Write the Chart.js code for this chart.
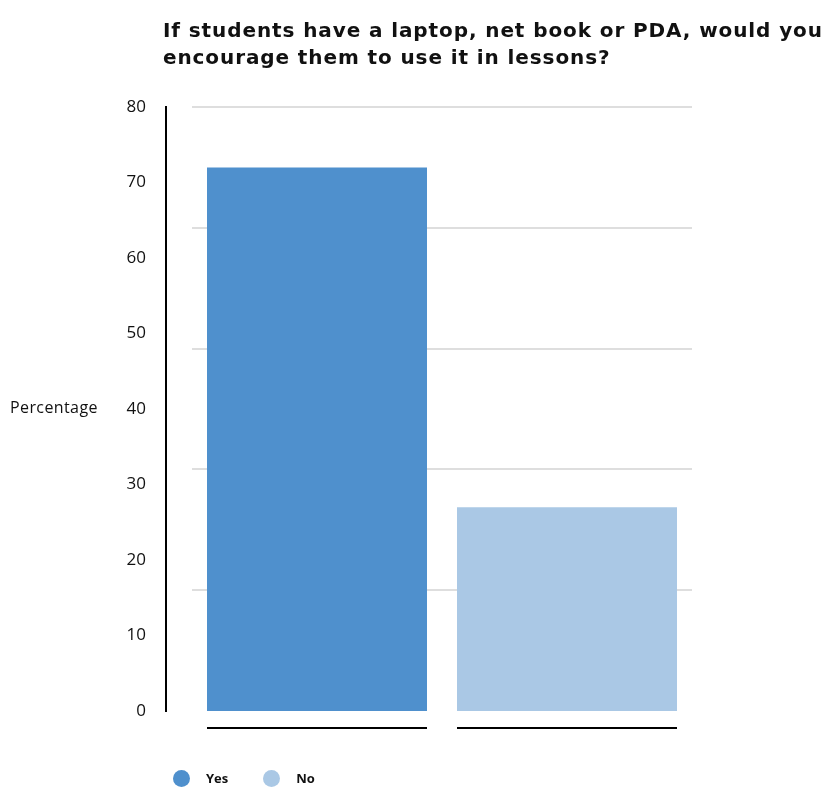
<!DOCTYPE html>
<html>
<head>
<meta charset="utf-8">
<script src="https://cdn.jsdelivr.net/npm/chart.js@4.4.1/dist/chart.umd.min.js"></script>
<style>
    html, body { margin: 0; padding: 0; background: #fff; }
    #wrap { position: relative; width: 828px; height: 787px; font-family: "Open Sans", sans-serif; color: #111; }
    #chart { position: absolute; left: 0; top: 0; }
    #title { position: absolute; left: 163px; top: 17px; font-family: "DejaVu Sans", sans-serif; font-size: 20px; letter-spacing: 0.9px; font-weight: 700; line-height: 27px; white-space: nowrap; }
    #ylabel { position: absolute; left: 10px; top: 396px; font-size: 16px; letter-spacing: 0.4px; line-height: 22px; }
    #legend { position: absolute; left: 173px; top: 769px; display: flex; align-items: center; font-size: 13px; font-weight: 700; }
    .item { display: flex; align-items: center; margin-right: 35px; }
    .dot { width: 17px; height: 17px; border-radius: 50%; margin-right: 16px; }
</style>
</head>
<body>
<div id="wrap">
    <canvas id="chart" width="828" height="787"></canvas>
    <div id="title">If students have a laptop, net book or PDA, would you<br>encourage them to use it in lessons?</div>
    <div id="ylabel">Percentage</div>
    <div id="legend"></div>
</div>
<script>
const categories = ['Yes', 'No'];
const values = [72, 27];
const barColors = ['#4f90cd', '#aac8e5'];
const yLabelTicks = [0, 10, 20, 30, 40, 50, 60, 70, 80];
const yGridTicks = [0, 16, 32, 48, 64, 80];

// 凡例 (HTML)
const legendEl = document.getElementById('legend');
categories.forEach((name, i) => {
    const item = document.createElement('div');
    item.className = 'item';
    item.innerHTML = `<span class="dot" style="background:${barColors[i]}"></span><span>${name}</span>`;
    legendEl.appendChild(item);
});

// 各棒の下に黒い下線
const barUnderline = {
    id: 'barUnderline',
    afterDatasetsDraw(chart, args, opts) {
        const c = chart.ctx;
        c.save();
        c.strokeStyle = opts.color;
        c.lineWidth = opts.width;
        chart.getDatasetMeta(0).data.forEach(bar => {
            const { x, width, base } = bar.getProps(['x', 'width', 'base'], true);
            c.beginPath();
            c.moveTo(x - width / 2, base + opts.offset);
            c.lineTo(x + width / 2, base + opts.offset);
            c.stroke();
        });
        c.restore();
    }
};

const ctx = document.getElementById('chart').getContext('2d');
new Chart(ctx, {
    type: 'bar',
    data: {
        labels: categories,
        datasets: [{
            data: values,
            backgroundColor: barColors,
            borderWidth: 0,
            barPercentage: 0.88,
            categoryPercentage: 1,
        }]
    },
    options: {
        responsive: false,
        animation: false,
        layout: { padding: { left: 106, right: 136, top: 107, bottom: 76 } },
        plugins: {
            legend: { display: false },
            tooltip: { enabled: false },
            barUnderline: { color: '#000', width: 2, offset: 17 },
        },
        scales: {
            x: { display: false },
            y: {
                position: 'left',
                weight: 1,
                min: 0,
                max: 80,
                afterBuildTicks: (axis) => { axis.ticks = yLabelTicks.map(v => ({ value: v })); },
                ticks: {
                    padding: 20,
                    color: '#111',
                    font: { family: 'Open Sans', size: 17 },
                },
                grid: { display: false, drawTicks: false },
                border: { display: true, color: '#000', width: 2 },
                afterFit: (axis) => { axis.width = 60; },
            },
            yGrid: {
                position: 'left',
                weight: 0,
                min: 0,
                max: 80,
                afterBuildTicks: (axis) => { axis.ticks = yGridTicks.map(v => ({ value: v })); },
                ticks: { display: false },
                grid: {
                    drawTicks: false,
                    lineWidth: 2,
                    color: (c) => (c.tick && c.tick.value === 0 ? 'rgba(0,0,0,0)' : '#dedede'),
                },
                border: { display: false },
                afterFit: (axis) => { axis.width = 26; },
            },
        }
    },
    plugins: [barUnderline]
});
</script>
</body>
</html>
